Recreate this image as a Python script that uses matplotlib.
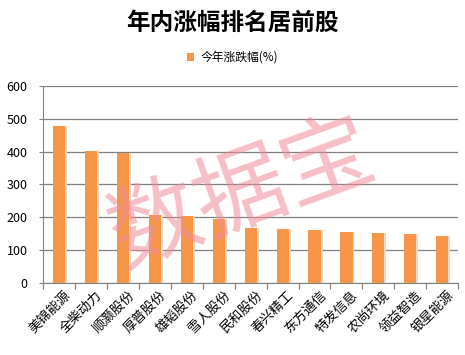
""" Bar chart of top year-to-date gainers. """

import numpy as np
from matplotlib import pyplot as plt

plt.rcParams['font.family'] = ['Noto Sans CJK SC', 'DejaVu Sans']

# Data
names = ['美锦能源', '全柴动力', '顺灏股份', '厚普股份', '雄韬股份', '雪人股份',
         '民和股份', '春兴精工', '东方通信', '特发信息', '农尚环境', '领益智造',
         '银星能源']
gains = [477, 403, 397, 208, 203, 194, 168, 164, 161, 155, 152, 149, 142]
yticks = [0, 100, 200, 300, 400, 500, 600]

fig = plt.figure(figsize=(4.65, 3.55), dpi=100)
ax = fig.add_axes([0.0925, 0.203, 0.893, 0.555])

x = np.arange(len(names))
# faint shadow then bars
ax.bar(x + 0.06, gains, width=0.38, color='#e8d8cc', zorder=2)
ax.bar(x, gains, width=0.38, color='#F79646', zorder=3,
       label='今年涨跌幅(%)')

ax.set_xlim(-0.5, len(names) - 0.5)
ax.set_ylim(0, 600)
ax.set_yticks(yticks)
ax.set_yticklabels([str(v) for v in yticks], fontsize=9)
ax.yaxis.grid(True, color='#808080', lw=0.9, zorder=1)
ax.tick_params(axis='y', length=3, color='#808080', pad=8)

# x ticks at category boundaries, labels at centers
ax.set_xticks(np.arange(-0.5, len(names), 1.0))
ax.set_xticklabels([])
ax.tick_params(axis='x', length=4, color='#808080')
ax.set_xticks(x + 0.15, minor=True)
ax.set_xticklabels(names, minor=True, rotation=45, ha='right',
                   rotation_mode='anchor', fontsize=9.5)
ax.tick_params(axis='x', which='minor', length=0, pad=4)

for s in ['top', 'right']:
    ax.spines[s].set_visible(False)
for s in ['left', 'bottom']:
    ax.spines[s].set_color('#808080')

# Title and legend
fig.text(0.5, 0.935, '年内涨幅排名居前股', ha='center', va='center',
         fontsize=17, fontweight='bold')
fig.legend(loc='center', bbox_to_anchor=(0.5, 0.838), frameon=False,
           fontsize=8.5, handlelength=0.6, handleheight=0.6, handletextpad=0.5)

# Watermark
fig.text(0.52, 0.45, '数据宝', ha='center', va='center', fontsize=66,
         color='#f08a98', alpha=0.55, rotation=20, zorder=10)

plt.savefig('out.png', dpi=100)
